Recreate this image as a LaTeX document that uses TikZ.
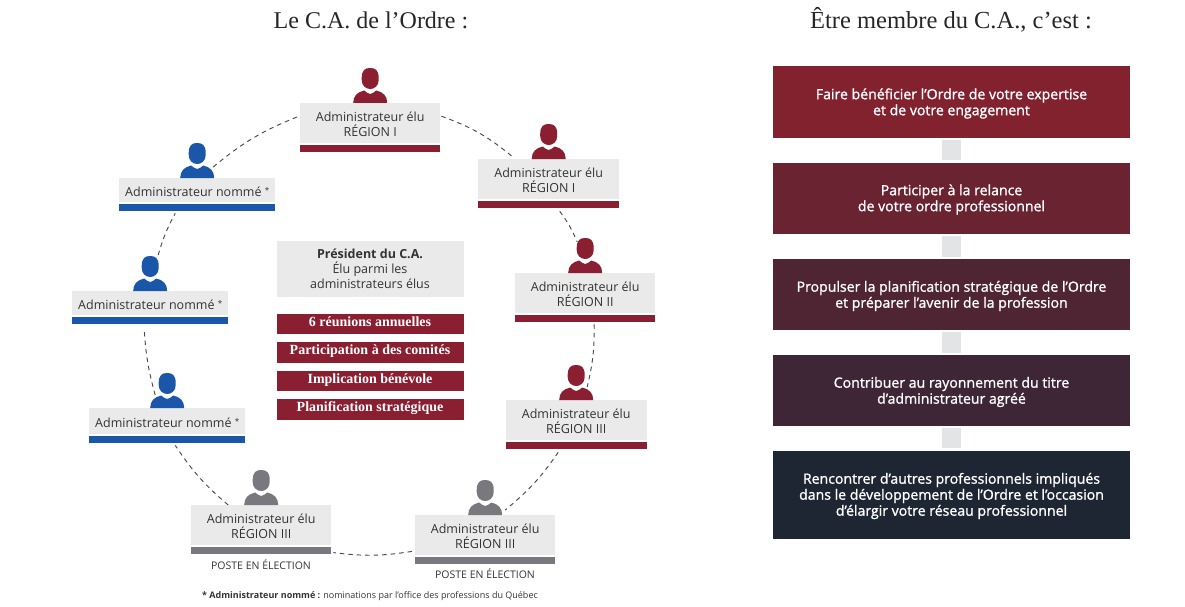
\documentclass[tikz,border=0pt]{standalone}
\usepackage{fontspec}
\setmainfont{Open Sans}
\newfontfamily\serifhead{Liberation Serif}
\newfontfamily\fakebold[FakeBold=1.2]{Open Sans}
\usetikzlibrary{calc,positioning}
\definecolor{redc}{HTML}{8A1F31}
\definecolor{bluec}{HTML}{1B57A8}
\definecolor{greyc}{HTML}{78787E}
\definecolor{panel}{HTML}{EAEAEA}
\definecolor{linkc}{HTML}{E3E4E6}
\definecolor{dashc}{HTML}{4A4A4A}
\definecolor{txt}{HTML}{333333}
\tikzset{x=1pt,y=-1pt,
  adminbox/.style={fill=panel,inner sep=0pt,anchor=north west,minimum width=#1},
  admintext/.style={inner sep=0pt,text=txt,font=\fontsize{12.5}{15}\selectfont,align=center},
  bar/.style={fill=#1,inner sep=0pt,minimum height=7pt,anchor=north west},
  circlink/.style={draw=dashc,dash pattern=on 4.5pt off 4pt,line width=.95pt},
  redpill/.style={fill=redc,inner sep=0pt,minimum width=187pt,minimum height=20.5pt,text height=8pt,text depth=4pt,text=white,font=\serifhead\bfseries\fontsize{14}{15}\selectfont},
  bigbox/.style={inner sep=0pt,minimum width=357pt},
  bigtext/.style={inner sep=0pt,text=white,align=center,font=\fakebold\fontsize{14.1}{16}\selectfont},
  heading/.style={text=black!85,font=\serifhead\fontsize{24}{28}\selectfont},
  person/.pic={
    \fill (-8.5,-25) .. controls (-8.5,-33) and (-5,-35) .. (0,-35) .. controls (5,-35) and (8.5,-33) .. (8.5,-25)
       -- (8.5,-23) .. controls (8.5,-17) and (4,-14) .. (0,-14) .. controls (-4,-14) and (-8.5,-17) .. (-8.5,-23) -- cycle;
    \fill (-17,0) .. controls (-17,-7) and (-13,-11) .. (-6,-12.5) .. controls (-4,-10.5) and (-2,-9.5) .. (0,-9) .. controls (2,-9.5) and (4,-10.5) .. (6,-12.5) .. controls (13,-11) and (17,-7) .. (17,0) -- cycle;
  }}
\newcommand{\admin}[7]{% name, x, y, width, height, colour, text
  \node[adminbox=#4pt,minimum height=#5pt] (#1) at (#2,#3) {};
  \node[admintext] (#1txt) at ($(#1.center)+(0,1.2)$) {#7};
  \node[bar=#6,minimum width=#4pt,below=1.5pt of #1.south west,anchor=north west] (#1bar) {};
  \pic[#6] at ($(#1.north)$) {person};
}
\newcommand{\bigb}[5]{% name, y, height, rgb fill, text
  \definecolor{fill#1}{HTML}{#4}
  \node[bigbox,minimum height=#3pt,fill=fill#1] (#1) at (951.5,#2) {};
  \node[bigtext] (#1txt) at ($(#1.center)+(0,1.5)$) {#5};
}
\newcommand{\nomme}{Administrateur nommé \raisebox{2.5pt}{\fontsize{8}{8}\selectfont *}}
\begin{document}
\begin{tikzpicture}
\useasboundingbox (0,0) rectangle (1185,607);
\node[heading] (t1) at (371,20) {Le C.A. de l’Ordre :};
\node[heading,font=\serifhead\fontsize{24.5}{28}\selectfont] (t2) at (951,20) {Être membre du C.A., c’est :};

\admin{ra}{300}{103}{140}{40}{redc}{Administrateur élu\\RÉGION I}
\admin{rb}{478}{159}{141}{40}{redc}{Administrateur élu\\RÉGION I}
\admin{rc}{515}{273}{140}{40}{redc}{Administrateur élu\\RÉGION II}
\admin{rd}{505.5}{400}{141}{40}{redc}{Administrateur élu\\RÉGION III}
\admin{ge}{415}{515}{140}{40}{greyc}{Administrateur élu\\RÉGION III}
\admin{gf}{191}{505}{140}{40}{greyc}{Administrateur élu\\RÉGION III}
\admin{bg}{89}{408}{156}{26}{bluec}{\nomme}
\admin{bh}{72}{291}{156}{24}{bluec}{\nomme}
\admin{bi}{119}{178}{156}{24}{bluec}{\nomme}

\node[text=txt,font=\fontsize{10.5}{12}\selectfont] (pf) at (261,565) {POSTE EN ÉLECTION};
\node[text=txt,font=\fontsize{10.5}{12}\selectfont] (pe) at (485,574) {POSTE EN ÉLECTION};

\draw[circlink] ($(ra.east)+(1,-7)$) to[bend left=10] ($(rb.north west)+(36,-1)$);
\draw[circlink] ($(rbbar.south)+(11,3)$) to[bend left=7] ($(rc.north)+(-8,-31)$);
\draw[circlink] ($(rcbar.south)+(9,2)$) to[bend left=7] ($(rd.north)+(11,-13)$);
\draw[circlink] ($(rdbar.south)+(-18,3)$) to[bend left=8] ($(ge.north)+(20,-5)$);
\draw[circlink] ($(ge.south west)+(-3,-4)$) to[bend left=8] ($(gfbar.east)+(2,2)$);
\draw[circlink] ($(gf.north)+(-33,0)$) to[bend left=8] ($(bgbar.south)+(8,2)$);
\draw[circlink] ($(bg.north)+(-12,-13)$) to[bend left=6] ($(bhbar.south)+(-6,4)$);
\draw[circlink] ($(bh.north)+(8,-36)$) to[bend left=6] ($(bibar.south)+(-22,2)$);
\draw[circlink] ($(bi.north)+(16,-11)$) to[bend left=9] ($(ra.west)+(-1,-7)$);

\node[fill=panel,inner sep=0pt,minimum width=187pt,minimum height=56pt,align=center,text=txt,font=\fontsize{12.5}{15}\selectfont] (pres) at (370,269) {{\bfseries Président du C.A.}\\Élu parmi les\\administrateurs élus};
\node[redpill] (p1) at (370,324) {6 réunions annuelles};
\node[redpill] (p2) at (370,352.5) {Participation à des comités};
\node[redpill] (p3) at (370,381) {Implication bénévole};
\node[redpill] (p4) at (370,409.5) {Planification stratégique};

\bigb{ba}{102}{71}{83222F}{Faire bénéficier l’Ordre de votre expertise\\et de votre engagement}
\bigb{bb}{198}{71}{6A2330}{Participer à la relance\\de votre ordre professionnel}
\bigb{bc}{294.5}{71}{4F2433}{Propulser la planification stratégique de l’Ordre\\et préparer l’avenir de la profession}
\bigb{bd}{390.5}{71}{3E2636}{Contribuer au rayonnement du titre\\d’administrateur agréé}
\bigb{be}{494.5}{88}{1F2633}{Rencontrer d’autres professionnels impliqués\\dans le développement de l’Ordre et l’occasion\\d’élargir votre réseau professionnel}
\fill[linkc] ($(ba.south)+(-9.5,2)$) rectangle ($(bb.north)+(9.5,-2)$);
\fill[linkc] ($(bb.south)+(-9.5,2)$) rectangle ($(bc.north)+(9.5,-2)$);
\fill[linkc] ($(bc.south)+(-9.5,2)$) rectangle ($(bd.north)+(9.5,-2)$);
\fill[linkc] ($(bd.south)+(-9.5,2)$) rectangle ($(be.north)+(9.5,-2)$);

\node[text=txt,font=\fontsize{9}{11}\selectfont] (foot) at (370,596) {{\bfseries * Administrateur nommé :} nominations par l’office des professions du Québec};
\end{tikzpicture}
\end{document}
